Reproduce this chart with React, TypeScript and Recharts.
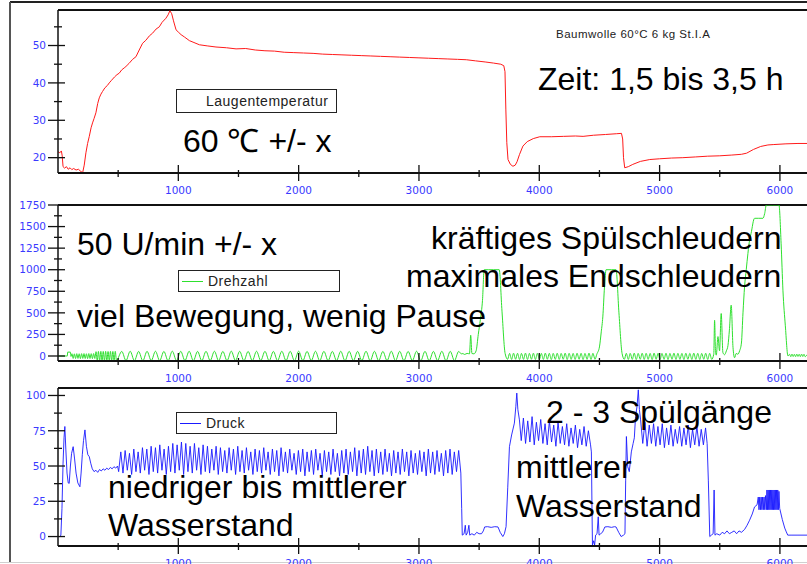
import { Legend, Line, LineChart, ReferenceLine, XAxis, YAxis } from "recharts";

const timeTicks = [500, 1000, 1500, 2000, 2500, 3000, 3500, 4000, 4500, 5000, 5500, 6000];
const tempTicks = [20, 25, 30, 35, 40, 45, 50, 55];
const drehzahlTicks = [0, 125, 250, 375, 500, 625, 750, 875, 1000, 1125, 1250, 1375, 1500, 1625, 1750];
const druckTicks = [0, 12.5, 25, 37.5, 50, 62.5, 75, 87.5, 100];

// [Zeit s, Laugentemperatur °C]
const laugentemperatur: [number, number][] = [
  [0, 21.6], [15, 21.3], [28, 21.8], [35, 20.5], [42, 17.6], [55, 17.2], [70, 17.6], [85, 16.9], [100, 17.3], [115, 16.8],
  [130, 17.1], [150, 16.7], [170, 16.9], [190, 16.3], [205, 16.0], [218, 18], [232, 21.3], [246, 23.8], [260, 25.7], [275, 28],
  [287, 29.3], [300, 30.5], [315, 32], [330, 34.5], [343, 36], [357, 37], [370, 37.7], [390, 38.7], [410, 39.3], [426, 40],
  [445, 40.7], [470, 41.6], [490, 42.2], [509, 42.6], [530, 43.5], [550, 44], [565, 44.4], [590, 45.2], [620, 46.3], [648, 47],
  [675, 48.8], [703, 50.6], [730, 51.4], [760, 52.6], [786, 53.3], [815, 54.4], [842, 55], [865, 56.2], [897, 57.3], [915, 58.2],
  [930, 59.3], [945, 58.5], [960, 56.6], [981, 54.2], [1000, 53.6], [1023, 52.9], [1050, 52.3], [1092, 51.3], [1130, 50.8], [1175, 50.2],
  [1240, 49.9], [1313, 49.6], [1400, 49.4], [1480, 49.1], [1560, 49.2], [1640, 48.8], [1720, 48.6], [1800, 48.5], [1880, 48.2], [1960, 48.1],
  [2040, 48.0], [2120, 47.9], [2200, 47.7], [2280, 47.6], [2360, 47.5], [2440, 47.4], [2520, 47.3], [2600, 47.2], [2680, 47.1], [2760, 47.0],
  [2840, 46.9], [2920, 46.8], [3000, 46.7], [3080, 46.6], [3160, 46.5], [3240, 46.4], [3320, 46.3], [3393, 46.2], [3470, 45.9], [3550, 45.6],
  [3620, 45.3], [3680, 45.0], [3705, 44.6], [3715, 43], [3722, 33], [3730, 24], [3740, 19.5], [3760, 18.2], [3781, 17.7], [3800, 18.0],
  [3815, 18.9], [3835, 20.8], [3864, 23.1], [3900, 24.3], [3950, 25.1], [4004, 25.6], [4100, 25.6], [4200, 25.7], [4300, 25.8], [4364, 25.7],
  [4450, 26.0], [4550, 26.2], [4640, 26.4], [4683, 26.5], [4693, 25], [4700, 20], [4710, 17.3], [4740, 17.6], [4777, 18.2], [4840, 19],
  [4918, 19.5], [5000, 19.7], [5100, 19.9], [5193, 20.0], [5300, 20.2], [5400, 20.4], [5500, 20.5], [5600, 20.7], [5680, 20.9], [5723, 21.2],
  [5780, 22.2], [5840, 23], [5900, 23.4], [5944, 23.5], [6050, 23.7], [6150, 23.8], [6225, 23.8],
];

// [Zeit s, Drehzahl U/min]
const drehzahl: [number, number][] = [
  [0, 0], [78, 0], [80, 45], [103, 45], [108, -5], [116, 26], [126, -28], [136, 25], [146, -29], [156, 27],
  [166, -28], [176, 26], [186, -30], [196, 27], [206, -28], [216, 28], [226, -29], [236, 26], [246, -30], [256, 28],
  [266, -29], [276, 27], [286, -30], [296, 28], [306, -29], [316, 50], [326, -54], [336, 53], [346, -55], [356, 54],
  [366, -56], [376, 53], [386, -55], [396, 54], [406, -56], [416, 52], [426, -55], [436, 54], [446, -56], [456, 53],
  [466, -55], [476, 54], [486, -50],
  // Waschen
  [530, 53], [565, -53], [600, 55], [635, -54], [670, 53], [705, -55], [740, 54], [775, -53], [810, 55], [845, -54],
  [880, 53], [915, -55], [950, 56], [985, -54], [1020, 54], [1055, -53], [1090, 55], [1125, -55], [1160, 53], [1195, -54],
  [1230, 54], [1265, -53], [1300, 55], [1335, -55], [1370, 53], [1405, -54], [1440, 56], [1475, -53], [1510, 54], [1545, -55],
  [1580, 53], [1615, -54], [1650, 55], [1685, -53], [1720, 54], [1755, -55], [1790, 53], [1825, -54], [1860, 55], [1895, -53],
  [1930, 54], [1965, -55], [2000, 56], [2035, -54], [2070, 53], [2105, -53], [2140, 55], [2175, -55], [2210, 54], [2245, -54],
  [2280, 53], [2315, -53], [2350, 55], [2385, -55], [2420, 54], [2455, -54], [2490, 53], [2525, -53], [2560, 55], [2595, -55],
  [2630, 54], [2665, -54], [2700, 53], [2735, -53], [2770, 55], [2805, -55], [2840, 54], [2875, -54], [2910, 53], [2945, -53],
  [2980, 55], [3015, -55], [3050, 54], [3085, -54], [3120, 53], [3155, -53], [3190, 55], [3225, -55], [3260, 54], [3295, -54],
  [3330, 53],
  // Spülschleudern 1
  [3352, 25], [3365, 28], [3380, 18], [3400, 30], [3420, 25], [3430, 240], [3440, 30], [3457, 25], [3475, 60], [3493, 250],
  [3510, 420], [3528, 645], [3542, 1000], [3580, 1000], [3620, 1000], [3667, 1000], [3690, 520], [3716, 30],
  // Spülen 1
  [3737, -38], [3753, 30], [3770, -40], [3786, 32], [3803, -38], [3819, 31], [3836, -41], [3852, 30], [3869, -39], [3885, 33],
  [3902, -40], [3918, 30], [3935, -38], [3951, 32], [3968, -41], [3984, 31], [4001, -39], [4017, 30], [4034, -40], [4050, 33],
  [4067, -38], [4083, 31], [4100, -41], [4116, 30], [4133, -39], [4149, 32], [4166, -40], [4182, 30], [4199, -38], [4215, 33],
  [4232, -41], [4248, 31], [4265, -39], [4281, 30], [4298, -40], [4314, 32], [4331, -38], [4347, 31], [4364, -41], [4380, 30],
  [4397, -39], [4413, 33], [4430, -40], [4446, 31], [4463, -38],
  // Spülschleudern 2
  [4478, 20], [4500, 105], [4515, 280], [4528, 453], [4542, 800], [4555, 1000], [4600, 1000], [4638, 1000], [4662, 500], [4688, 30],
  // Spülen 2
  [4707, -38], [4723, 31], [4740, -40], [4756, 30], [4773, -39], [4789, 33], [4806, -41], [4822, 30], [4839, -38], [4855, 32],
  [4872, -40], [4888, 31], [4905, -39], [4921, 30], [4938, -41], [4954, 33], [4971, -38], [4987, 31], [5004, -40], [5020, 30],
  [5037, -39], [5053, 32], [5070, -41], [5086, 30], [5103, -38], [5119, 33], [5136, -40], [5152, 31], [5169, -39], [5185, 30],
  [5202, -41], [5218, 32], [5235, -38], [5251, 30], [5268, -40], [5284, 33], [5301, -39], [5317, 31], [5334, -41], [5350, 30],
  [5367, -38], [5383, 32], [5400, -40], [5416, 31], [5433, -39],
  // Endschleudern
  [5450, 20], [5457, 414], [5465, 40], [5471, 10], [5485, 225], [5498, 60], [5512, 492], [5526, 40], [5540, 15], [5555, 60],
  [5568, 120], [5580, 300], [5595, 589], [5610, 100], [5623, -20], [5637, 30], [5650, 20], [5665, 60], [5680, 150], [5693, 500],
  [5706, 801], [5720, 1000], [5734, 1189], [5748, 1344], [5760, 1420], [5789, 1596], [5820, 1596], [5859, 1596], [5873, 1650], [5887, 1750],
  [5940, 1750], [5992, 1750], [6010, 1300], [6025, 763], [6045, 350], [6067, 0],
  [6080, 20], [6090, -8], [6100, 22], [6110, -6], [6120, 20], [6130, -8], [6140, 22], [6150, -5], [6160, 20], [6170, -8],
  [6180, 22], [6190, -6], [6200, 20], [6210, -8], [6225, 15],
];

// [Zeit s, Druck]
const druck: [number, number][] = [
  [0, 0], [15, 0], [24, 1], [33, 20], [42, 52], [50, 70], [57, 78], [65, 62], [75, 45], [85, 38],
  [93, 37.7], [103, 50], [113, 59], [126, 63.7], [138, 55], [150, 45], [165, 38], [182, 35.3], [192, 45], [202, 58],
  [212, 68], [224, 75.6], [236, 64], [248, 58], [260, 56.6], [272, 52], [285, 48], [300, 46], [315, 47], [330, 45.5],
  [345, 47.5], [360, 46.5], [375, 48], [390, 47], [405, 48.5], [420, 47.5], [435, 49], [450, 48], [465, 49.5], [480, 48.5],
  [495, 50],
  // Waschen
  [504, 46], [522, 60], [540, 45], [558, 61], [576, 47], [594, 59], [612, 44], [630, 62], [648, 46], [666, 60],
  [684, 45], [702, 63], [720, 47], [738, 62], [756, 44], [774, 64], [792, 46], [810, 63], [828, 45], [846, 65],
  [864, 47], [882, 62], [900, 44], [918, 64], [936, 46], [954, 66], [972, 45], [990, 65], [1008, 47], [1026, 67],
  [1044, 44], [1062, 66], [1080, 46], [1098, 64], [1116, 45], [1134, 66], [1152, 47], [1170, 63], [1188, 44], [1206, 65],
  [1224, 46], [1242, 64], [1260, 45], [1278, 62], [1296, 47], [1314, 64], [1332, 44], [1350, 63], [1368, 46], [1386, 61],
  [1404, 45], [1422, 63], [1440, 47], [1458, 62], [1476, 44], [1494, 64], [1512, 46], [1530, 61], [1548, 45], [1566, 63],
  [1584, 47], [1602, 60], [1620, 44], [1638, 62], [1656, 46], [1674, 61], [1692, 45], [1710, 63], [1728, 47], [1746, 60],
  [1764, 44], [1782, 62], [1800, 46], [1818, 61], [1836, 43], [1854, 63], [1872, 46], [1890, 60], [1908, 45], [1926, 62],
  [1944, 47], [1962, 59], [1980, 44], [1998, 61], [2016, 46], [2034, 62], [2052, 43], [2070, 60], [2088, 46], [2106, 61],
  [2124, 44], [2142, 62], [2160, 47], [2178, 59], [2196, 43], [2214, 61], [2232, 46], [2250, 60], [2268, 44], [2286, 62],
  [2304, 46], [2322, 59], [2340, 43], [2358, 61], [2376, 45], [2394, 62], [2412, 44], [2430, 60], [2448, 46], [2466, 63],
  [2484, 43], [2502, 61], [2520, 45], [2538, 62], [2556, 44], [2574, 64], [2592, 46], [2610, 61], [2628, 43], [2646, 62],
  [2664, 45], [2682, 60], [2700, 44], [2718, 62], [2736, 46], [2754, 59], [2772, 43], [2790, 61], [2808, 45], [2826, 60],
  [2844, 44], [2862, 62], [2880, 46], [2898, 60], [2916, 43], [2934, 61], [2952, 45], [2970, 59], [2988, 44], [3006, 61],
  [3024, 46], [3042, 60], [3060, 43], [3078, 62], [3096, 45], [3114, 60], [3132, 44], [3150, 61], [3168, 46], [3186, 59],
  [3204, 43], [3222, 61], [3240, 45], [3258, 62], [3276, 44], [3294, 60], [3312, 46], [3330, 61], [3348, 45],
  // Abpumpen, Spülen 1
  [3355, 20], [3360, 1], [3375, 2], [3385, 8], [3392, 1], [3405, 3], [3415, 8], [3422, 1], [3440, 2], [3460, 1],
  [3480, 3], [3500, 2], [3520, 2], [3535, 4], [3546, 6.8], [3570, 7], [3600, 6.5], [3630, 7], [3657, 6.8], [3675, 3],
  [3697, 0], [3710, 2], [3724, 7], [3738, 35], [3752, 63.7], [3770, 72], [3793, 80.4], [3805, 92], [3813, 101.7], [3822, 90],
  [3835, 82.7], [3850, 68], [3868, 84], [3886, 66], [3904, 82], [3922, 67], [3940, 85], [3958, 65], [3976, 81], [3994, 68],
  [4012, 83], [4030, 66], [4048, 80], [4066, 65], [4084, 82], [4102, 67], [4120, 79], [4138, 64], [4156, 81], [4174, 66],
  [4192, 78], [4210, 65], [4228, 80], [4246, 64], [4264, 77], [4282, 66], [4300, 79], [4318, 63], [4336, 76], [4354, 65],
  [4372, 78], [4390, 64], [4408, 75], [4426, 65], [4433, 60], [4438, 20], [4442, -6], [4452, -3], [4460, -6], [4468, 1],
  // Spülen 2
  [4480, 2], [4490, 14], [4497, 1], [4510, 2], [4525, 3], [4545, 6.8], [4570, 7], [4600, 6.5], [4625, 7], [4638, 6.8],
  [4660, 3], [4680, 0], [4700, 1], [4712, 2], [4718, 40], [4724, 70.9], [4735, 49.5], [4748, 46], [4765, 60], [4780, 66],
  [4790, 70], [4800, 85], [4812, 92], [4823, 104], [4832, 90], [4842, 82.7], [4860, 66], [4878, 81], [4896, 64], [4914, 79],
  [4932, 66], [4950, 80], [4968, 64], [4986, 78], [5004, 65], [5022, 80], [5040, 63], [5058, 77], [5076, 65], [5094, 79],
  [5112, 64], [5130, 76], [5148, 66], [5166, 78], [5184, 64], [5202, 77], [5220, 65], [5238, 79], [5256, 63], [5274, 76],
  [5292, 65], [5310, 78], [5328, 64], [5346, 76], [5364, 65], [5382, 77], [5395, 66], [5405, 40], [5417, 0], [5430, 1],
  // Endschleudern
  [5445, 2], [5453, 33], [5460, 1], [5475, 2], [5500, 1], [5520, 3], [5540, 2], [5560, 4], [5580, 2], [5600, 3],
  [5620, 4], [5640, 2], [5660, 4], [5680, 3], [5706, 5], [5727, 8], [5748, 11.6], [5770, 16], [5789, 21], [5810, 22.5],
  [5820, 28], [5826, 19], [5832, 28], [5838, 19], [5844, 28], [5850, 19], [5856, 28], [5862, 19], [5868, 28], [5874, 19],
  [5880, 29], [5887, 19], [5892, 33], [5897, 19], [5902, 33], [5907, 19], [5912, 33], [5917, 19], [5922, 33], [5927, 19],
  [5932, 33], [5937, 19], [5942, 33], [5947, 19], [5952, 33], [5957, 19], [5962, 33], [5967, 19], [5972, 33], [5977, 19],
  [5982, 33], [5987, 19], [5992, 32], [5998, 20], [6020, 12], [6040, 6], [6053, 3.3], [6065, 1], [6100, 1], [6150, 1],
  [6225, 1],
];

const toRows = (pairs: [number, number][]) => pairs.map(([t, v]) => ({ t, v }));

const tickFont = "'DejaVu Sans', sans-serif";
const textFont = "'Liberation Sans', Arial, sans-serif";
const tickBlue = "#3a3aff";

function YTick({ x, y, payload, isMajor }: any) {
  const major = isMajor(payload.value);
  return (
    <g>
      <line x1={x - (major ? 10 : 4)} x2={x + (major ? 7 : 4)} y1={y} y2={y} stroke="#111" strokeWidth={1.3} />
      {major && (
        <text x={x - 12} y={y} dy="0.36em" textAnchor="end" fill={tickBlue} fontSize={10.5} fontFamily={tickFont}>
          {payload.value}
        </text>
      )}
    </g>
  );
}

function XTick({ x, y, payload }: any) {
  const major = payload.value % 1000 === 0;
  return (
    <g>
      <line x1={x} x2={x} y1={y - (major ? 8 : 3)} y2={y + (major ? 8 : 4)} stroke="#111" strokeWidth={1.3} />
      {major && (
        <text x={x} y={y + 21} textAnchor="middle" fill={tickBlue} fontSize={10.5} fontFamily={tickFont}>
          {payload.value}
        </text>
      )}
    </g>
  );
}

function LegendBox({ label, color, height }: { label: string; color?: string; height: number }) {
  return (
    <div
      style={{
        boxSizing: "border-box",
        width: "100%",
        height,
        border: "1.5px solid #222",
        background: "#fff",
        display: "flex",
        alignItems: "center",
        fontFamily: textFont,
        fontSize: 14,
        letterSpacing: 0.5,
        color: "#222",
      }}
    >
      <div style={{ width: 21, marginLeft: 3, marginRight: 5, borderTop: color ? `1px solid ${color}` : "none" }} />
      {label}
    </div>
  );
}

function Panel({
  top,
  height,
  marginTop,
  rows,
  color,
  width,
  domain,
  ticks,
  isMajor,
  curve,
  legend,
}: {
  top: number;
  height: number;
  marginTop: number;
  rows: { t: number; v: number }[];
  color: string;
  width: number;
  domain: [number, number];
  ticks: number[];
  isMajor: (v: number) => boolean;
  curve: "linear" | "monotone";
  legend: { left: number; top: number; width: number; height: number; label: string; color?: string };
}) {
  return (
    <div style={{ position: "absolute", left: 0, top }}>
      <LineChart width={807} height={height} data={rows} margin={{ top: marginTop, right: 0, bottom: 0, left: 0 }}>
        <XAxis
          dataKey="t"
          type="number"
          domain={[0, 6225]}
          allowDataOverflow
          ticks={timeTicks}
          interval={0}
          height={27}
          tickLine={false}
          tickSize={0}
          tickMargin={0}
          axisLine={{ stroke: "#111", strokeWidth: 2 }}
          tick={(p: any) => <XTick {...p} />}
        />
        <YAxis
          type="number"
          domain={domain}
          allowDataOverflow
          ticks={ticks}
          interval={0}
          width={58}
          tickLine={false}
          tickSize={0}
          tickMargin={0}
          axisLine={{ stroke: "#111", strokeWidth: 1.5 }}
          tick={(p: any) => <YTick {...p} isMajor={isMajor} />}
        />
        <ReferenceLine y={domain[1]} stroke="#111" strokeWidth={2} />
        <Legend
          layout="horizontal"
          verticalAlign="middle"
          align="center"
          wrapperStyle={{ left: legend.left, top: legend.top, width: legend.width, height: legend.height }}
          content={() => <LegendBox label={legend.label} color={legend.color} height={legend.height} />}
        />
        <Line
          type={curve}
          dataKey="v"
          stroke={color}
          strokeWidth={width}
          dot={false}
          isAnimationActive={false}
        />
      </LineChart>
    </div>
  );
}

const note: React.CSSProperties = {
  position: "absolute",
  fontFamily: textFont,
  fontSize: 32,
  lineHeight: "32px",
  color: "#000",
  whiteSpace: "nowrap",
};

export default function App() {
  return (
    <div style={{ position: "absolute", left: 0, top: 0, width: 807, height: 564, background: "#fff", overflow: "hidden" }}>
      <div style={{ position: "absolute", left: 10, top: 1, width: 797, height: 2, background: "#222" }} />
      <div style={{ position: "absolute", left: 9, top: 2, width: 2, height: 561, background: "#555" }} />
      <div style={{ position: "absolute", left: 0, top: 562, width: 807, height: 1, background: "#d0d0d0" }} />

      <Panel
        top={0}
        height={200}
        marginTop={10}
        rows={toRows(laugentemperatur)}
        color="#ff1a1a"
        width={1}
        domain={[15.9, 59.5]}
        ticks={tempTicks}
        isMajor={(v) => v % 10 === 0}
        curve="linear"
        legend={{ left: 176, top: 89, width: 161, height: 24, label: "Laugentemperatur" }}
      />
      <Panel
        top={190}
        height={198}
        marginTop={15}
        rows={toRows(drehzahl)}
        color="#2ee02e"
        width={1}
        domain={[-58, 1750]}
        ticks={drehzahlTicks}
        isMajor={(v) => v % 250 === 0}
        curve="monotone"
        legend={{ left: 178, top: 80, width: 162, height: 22, label: "Drehzahl", color: "#2ee02e" }}
      />
      <Panel
        top={378}
        height={195}
        marginTop={10}
        rows={toRows(druck)}
        color="#1a1aff"
        width={0.9}
        domain={[-6.7, 105.3]}
        ticks={druckTicks}
        isMajor={(v) => v % 25 === 0}
        curve="linear"
        legend={{ left: 176, top: 34, width: 161, height: 22, label: "Druck", color: "#1a1aff" }}
      />

      <div
        style={{
          position: "absolute",
          left: 556,
          top: 28,
          fontFamily: textFont,
          fontSize: 11.5,
          letterSpacing: 0.5,
          color: "#222",
          whiteSpace: "nowrap",
        }}
      >
        Baumwolle 60°C 6 kg St.I.A
      </div>

      <div style={{ ...note, left: 183, top: 125 }}>60 ℃ +/- x</div>
      <div style={{ ...note, left: 538, top: 63 }}>Zeit: 1,5 bis 3,5 h</div>
      <div style={{ ...note, left: 77, top: 228 }}>50 U/min +/- x</div>
      <div style={{ ...note, left: 77, top: 300 }}>viel Bewegung, wenig Pause</div>
      <div style={{ ...note, left: 431, top: 222 }}>kräftiges Spülschleudern</div>
      <div style={{ ...note, left: 406, top: 260 }}>maximales Endschleudern</div>
      <div style={{ ...note, left: 108, top: 471 }}>niedriger bis mittlerer</div>
      <div style={{ ...note, left: 108, top: 509 }}>Wasserstand</div>
      <div style={{ ...note, left: 546, top: 396 }}>2 - 3 Spülgänge</div>
      <div style={{ ...note, left: 516, top: 451 }}>mittlerer</div>
      <div style={{ ...note, left: 516, top: 490 }}>Wasserstand</div>
    </div>
  );
}
